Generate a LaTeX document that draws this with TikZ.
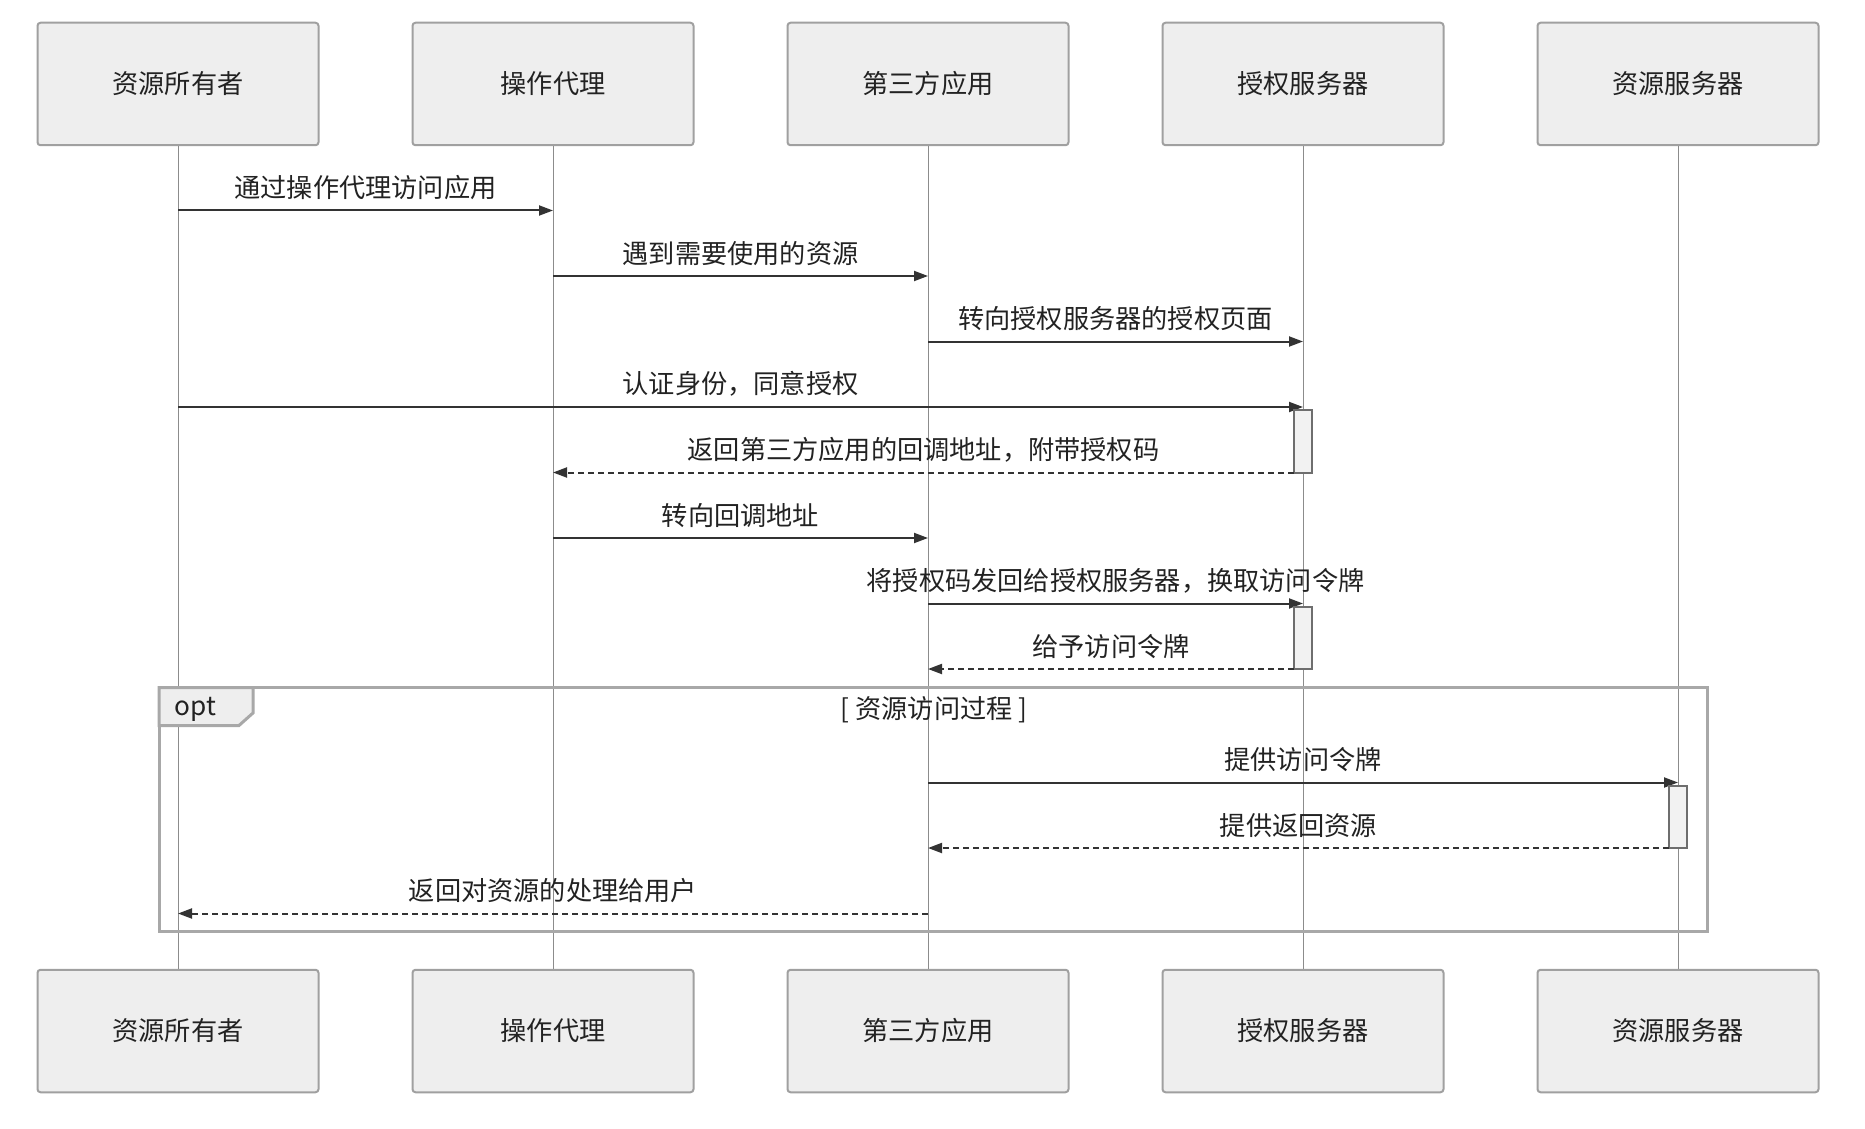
\documentclass[tikz,border=0pt]{standalone}
\usepackage{fontspec}
\setmainfont{Noto Sans CJK SC}
\usetikzlibrary{arrows.meta,positioning}
\definecolor{boxfill}{HTML}{EEEEEE}
\definecolor{boxline}{HTML}{A0A0A0}
\definecolor{lifegray}{HTML}{8C8C8C}
\definecolor{arrowgray}{HTML}{333333}
\definecolor{actline}{HTML}{6E6E6E}
\definecolor{actfill}{HTML}{F2F2F2}
\definecolor{framegray}{HTML}{A8A8A8}
\definecolor{txt}{HTML}{222222}
\begin{document}
\begin{tikzpicture}[x=0.5pt,y=-0.5pt,
    font=\fontsize{13.1pt}{15pt}\selectfont, text=txt,
    actor/.style={draw=boxline, fill=boxfill, line width=1pt, rounded corners=1.5pt,
              minimum width=140.5pt, minimum height=61.25pt, inner sep=0pt},
    life/.style={draw=lifegray, line width=0.5pt},
    msg/.style={draw=arrowgray, line width=1pt, -{Triangle[length=7pt,width=5pt]}},
    reply/.style={msg, dash pattern=on 3pt off 2pt},
    lbl/.style={midway, above=4.7pt, inner sep=0pt},
    act/.style={draw=actline, fill=actfill, line width=1pt, minimum width=9pt,
              minimum height=31.25pt, inner sep=0pt, outer sep=0pt, anchor=north}]
    \useasboundingbox (0,0) rectangle (1865,1129);
    \foreach \n/\t [count=\i, evaluate = \i as \x using {178+375*(\i-1)}] in
        {owner/资源所有者, agent/操作代理, client/第三方应用, auth/授权服务器, res/资源服务器}{
        \node[actor] (\n) at (\x,84) {\t};
        \node[actor] (\n-bot) at (\x,1031) {\t};
        \draw[life] (\n) -- (\n-bot);
        \foreach \k/\y in {1/210.5,2/276,3/341.5,4/407,5/472.5,6/538,
                           7/603.5,8/669,9/782.5,10/848,11/913.5}{
            \coordinate (\n-\k) at (\n |- 0,\y);
        };
    };
    \draw[framegray, line width=1.5pt] (159,687.5) rectangle (1707,931);
    \draw[framegray, line width=1.5pt, fill=boxfill]
        (159,687.5) -| (253,713) -- (239,725.5) -| cycle;
    \node[anchor=west, inner sep=0pt] (optlbl) at (174,709.5) {opt};
    \node (guard) at (934,709.5) {[ 资源访问过程 ]};
    \draw[msg] (owner-1) -- node[lbl] {通过操作代理访问应用} (agent-1);
    \draw[msg] (agent-2) -- node[lbl] {遇到需要使用的资源} (client-2);
    \draw[msg] (client-3) -- node[lbl] {转向授权服务器的授权页面} (auth-3);
    \draw[msg] (owner-4) -- node[lbl] {认证身份，同意授权} (auth-4);
    \node[act] (act1) at ([yshift=-1.5pt]auth-4) {};
    \draw[reply] (act1.south west) -- node[lbl] {返回第三方应用的回调地址，附带授权码} (agent-5);
    \draw[msg] (agent-6) -- node[lbl] {转向回调地址} (client-6);
    \draw[msg] (client-7) -- node[lbl] {将授权码发回给授权服务器，换取访问令牌} (auth-7);
    \node[act] (act2) at ([yshift=-1.5pt]auth-7) {};
    \draw[reply] (act2.south west) -- node[lbl] {给予访问令牌} (client-8);
    \draw[msg] (client-9) -- node[lbl] {提供访问令牌} (res-9);
    \node[act] (act3) at ([yshift=-1.5pt]res-9) {};
    \draw[reply] (act3.south west) -- node[lbl] {提供返回资源} (client-10);
    \draw[reply] (client-11) -- node[lbl] {返回对资源的处理给用户} (owner-11);
\end{tikzpicture}
\end{document}
